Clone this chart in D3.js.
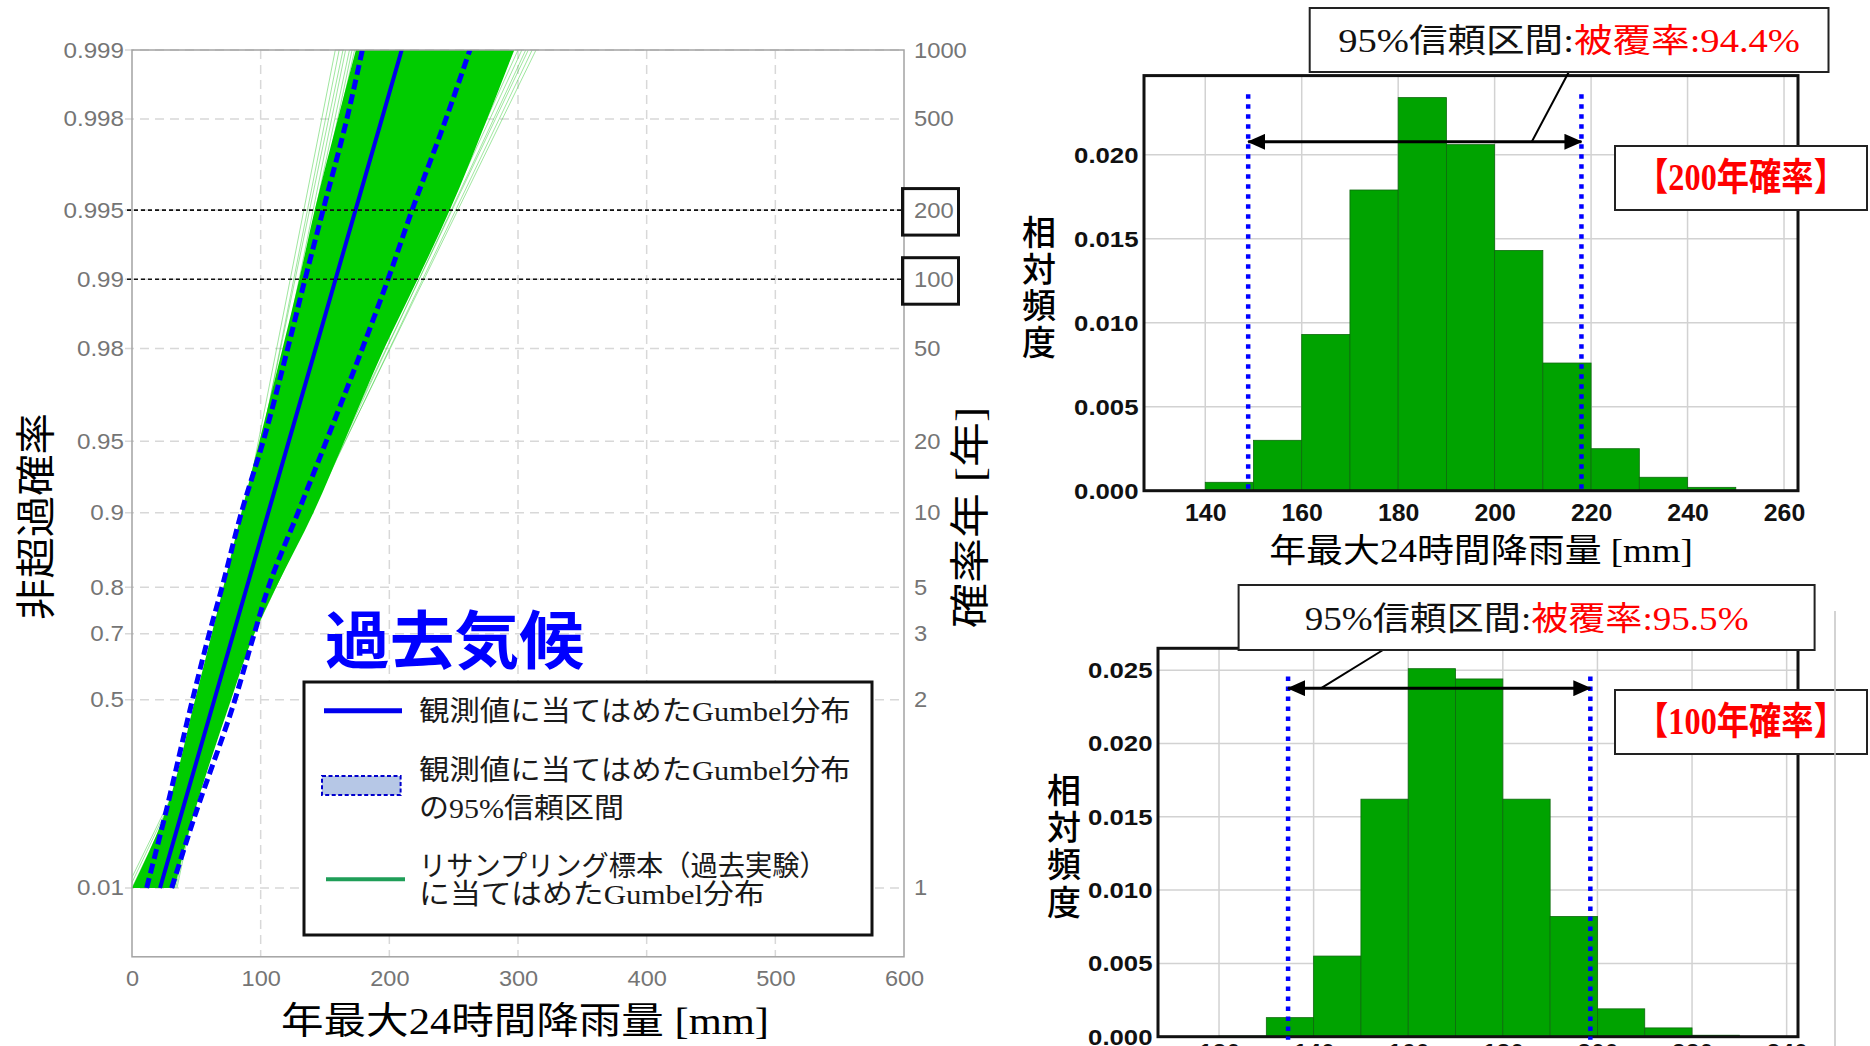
<!DOCTYPE html>
<html>
<head>
<meta charset="utf-8">
<script src="https://cdn.jsdelivr.net/npm/d3@7"></script>
<style>
  html, body { margin: 0; padding: 0; background: #fff; }
  svg { display: block; }
</style>
</head>
<body>
<svg id="chart" width="1870" height="1046"></svg>
<script>
// ---------------- data ----------------
// Gumbel probability paper: non-exceedance probability ticks and matching return periods
const probTicks = [0.01, 0.5, 0.7, 0.8, 0.9, 0.95, 0.98, 0.99, 0.995, 0.998, 0.999];
const probTickLabels = ["0.01", "0.5", "0.7", "0.8", "0.9", "0.95", "0.98", "0.99", "0.995", "0.998", "0.999"];
const returnPeriodLabels = ["1", "2", "3", "5", "10", "20", "50", "100", "200", "500", "1000"];
const rainTicks = [0, 100, 200, 300, 400, 500, 600];
const boxedProbs = [0.995, 0.99];          // 200-year and 100-year levels

// curves sampled at these probabilities (rainfall in mm)
const curveProbs   = [0.01, 0.1, 0.5, 0.7, 0.8, 0.9, 0.95, 0.98, 0.99, 0.995, 0.998, 0.999];
const fitRain      = [21.8, 37.2, 64.0, 78.8, 89.2, 105.9, 121.9, 142.7, 158.2, 173.7, 194.2, 209.6];
const ciLowRain    = [11.4, 25, 47, 60, 70, 85, 102, 121, 134.5, 148.5, 167, 179];
const ciHighRain   = [30.8, 48, 80, 95, 106, 129, 151, 179, 199, 217.7, 244, 262.6];
const bandLowRain  = [0, 24, 49, 62, 71, 85, 99, 117, 130, 142, 160, 174];
const bandHighRain = [33, 47, 77, 95, 112, 141, 165, 196, 222, 247, 276, 297];
// outer resampled Gumbel fits: rainfall at p = 0.01 and at p = 0.999
const sampleRainAtP001  = [30, 32, 28, 34, 31, 35, 29, 33, -4, 0, -2, 3, 1, 5, 2, 6];
const sampleRainAtP0999 = [158, 161, 164, 166, 169, 171, 173, 176, 314, 311, 308, 306, 303, 300, 297, 295];

// histograms of the resampled 200-year and 100-year rainfall
const hist200Bins    = [140, 150, 160, 170, 180, 190, 200, 210, 220, 230, 240];
const hist200Density = [0.0005, 0.0030, 0.0093, 0.0179, 0.0234, 0.0206, 0.0143, 0.0076, 0.0025, 0.0008, 0.0002];
const hist200CI      = [148.9, 218.0];
const hist200XTicks  = [140, 160, 180, 200, 220, 240, 260];
const hist200YTicks  = [0, 0.005, 0.010, 0.015, 0.020];

const hist100Bins    = [120, 130, 140, 150, 160, 170, 180, 190, 200, 210, 220];
const hist100Density = [0.00004, 0.0013, 0.0055, 0.0162, 0.0251, 0.0244, 0.0162, 0.0082, 0.0019, 0.0006, 0.0001];
const hist100CI      = [134.6, 198.5];
const hist100XTicks  = [120, 140, 160, 180, 200, 220, 240];
const hist100YTicks  = [0, 0.005, 0.010, 0.015, 0.020, 0.025];

const binWidth = 10;

// ---------------- helpers ----------------
const svg = d3.select("#chart");
const defs = svg.append("defs");
const SANS = "'Liberation Sans', Arial, Helvetica, sans-serif";
const JP = "'Noto Sans CJK JP', 'Noto Sans CJK SC', sans-serif";
const MIX = "'Liberation Serif', 'Noto Sans CJK JP', serif";

function txt(parent, content, o) {
  const gT = parent.append("g")
    .attr("transform", `translate(${o.x},${o.y})` + (o.rotate ? ` rotate(${o.rotate})` : ""));
  const t = gT.append("text")
    .attr("text-anchor", o.anchor || "middle")
    .attr("dominant-baseline", "central")
    .attr("fill", o.fill || "#000")
    .style("font-family", o.family || MIX)
    .style("font-size", o.size + "px")
    .style("font-weight", o.weight || "normal");
  if (Array.isArray(content)) {
    content.forEach(c => t.append("tspan").attr("fill", c.fill).text(c.text));
  } else {
    t.text(content);
  }
  if (o.width) {
    const w = t.node().getBBox().width;
    t.attr("transform", `scale(${o.width / w},1)`);
  } else if (o.stretch) {
    t.attr("transform", `scale(${o.stretch},1)`);
  }
  return t;
}

// upright characters stacked top to bottom
function vtxt(parent, content, o) {
  return parent.append("text")
    .attr("x", o.x).attr("y", o.y)
    .attr("text-anchor", "start")
    .style("writing-mode", "vertical-rl")
    .style("letter-spacing", o.spacing + "px")
    .style("font-family", o.family)
    .style("font-size", o.size + "px")
    .style("font-weight", o.weight || "normal")
    .attr("fill", o.fill || "#000")
    .text(content);
}

function styleAxis(axG, o) {
  axG.select(".domain").remove();
  axG.selectAll(".tick line").remove();
  axG.selectAll(".tick text")
    .attr("fill", o.fill)
    .style("font-family", o.family)
    .style("font-size", o.size + "px")
    .style("font-weight", o.weight || "normal")
    .each(function () {
      const t = d3.select(this);
      const x = +t.attr("x") || 0;
      t.attr("transform", `translate(${x},0) scale(${o.stretch},1) translate(${-x},0)`);
    });
}

// ---------------- left: Gumbel probability plot ----------------
const L = { left: 132, right: 904, top: 50, bottom: 956.8 };
const gum = p => -Math.log(-Math.log(p));        // reduced variate
const xR = d3.scaleLinear().domain([0, 600]).range([L.left, L.right]);
const yRed = d3.scaleLinear().domain([gum(0.0001), gum(0.999)]).range([L.bottom, L.top]);
const yP = p => yRed(gum(p));

defs.append("clipPath").attr("id", "plotClip").append("rect")
  .attr("x", L.left).attr("y", L.top)
  .attr("width", L.right - L.left).attr("height", L.bottom - L.top);

const plot = svg.append("g");

// dashed grid
plot.append("g").selectAll("line").data(probTicks).join("line")
  .attr("x1", L.left - 7).attr("x2", L.right)
  .attr("y1", d => yP(d)).attr("y2", d => yP(d))
  .attr("stroke", "#d8d8d8").attr("stroke-width", 1.5).attr("stroke-dasharray", "9,6");
plot.append("g").selectAll("line").data(rainTicks.slice(1, -1)).join("line")
  .attr("x1", d => xR(d)).attr("x2", d => xR(d))
  .attr("y1", L.top).attr("y2", L.bottom)
  .attr("stroke", "#d8d8d8").attr("stroke-width", 1.5).attr("stroke-dasharray", "9,6");

const pts = vals => curveProbs.map((p, i) => ({ p, v: vals[i] }));
const lineGen = d3.line().x(d => xR(d.v)).y(d => yP(d.p));
const curves = plot.append("g").attr("clip-path", "url(#plotClip)");

// resampled fits: faint outer lines and the dense core
curves.selectAll("path.sample")
  .data(sampleRainAtP001.map((v, i) => [{ p: 0.01, v }, { p: 0.999, v: sampleRainAtP0999[i] }]))
  .join("path").attr("class", "sample")
  .attr("d", lineGen).attr("fill", "none")
  .attr("stroke", "#3fcf3f").attr("stroke-opacity", 0.5).attr("stroke-width", 1);

const bandArea = d3.area().y(d => yP(d.p)).x0(d => xR(d.lo)).x1(d => xR(d.hi))
  .curve(d3.curveMonotoneY);
curves.append("path")
  .datum(curveProbs.map((p, i) => ({ p, lo: bandLowRain[i], hi: bandHighRain[i] })))
  .attr("d", bandArea).attr("fill", "#00cc00");

// guide lines at the 200-year and 100-year levels
plot.append("g").selectAll("line").data(boxedProbs).join("line")
  .attr("x1", L.left - 5).attr("x2", L.right)
  .attr("y1", d => yP(d)).attr("y2", d => yP(d))
  .attr("stroke", "#111").attr("stroke-width", 1.6).attr("stroke-dasharray", "4,3");

// 95% confidence limits and fitted Gumbel line
const smoothLine = d3.line().x(d => xR(d.v)).y(d => yP(d.p)).curve(d3.curveMonotoneY);
[ciLowRain, ciHighRain].forEach(vals => {
  curves.append("path").datum(pts(vals)).attr("d", smoothLine)
    .attr("fill", "none").attr("stroke", "#0000ff")
    .attr("stroke-width", 5).attr("stroke-dasharray", "10,5");
});
curves.append("path").datum(pts(fitRain)).attr("d", lineGen)
  .attr("fill", "none").attr("stroke", "#0000ee").attr("stroke-width", 4);

// frame
plot.append("rect")
  .attr("x", L.left).attr("y", L.top)
  .attr("width", L.right - L.left).attr("height", L.bottom - L.top)
  .attr("fill", "none").attr("stroke", "#a3a3a3").attr("stroke-width", 1.5);

// axes
const axLeft = plot.append("g").attr("transform", `translate(${L.left},0)`)
  .call(d3.axisLeft(yRed).tickValues(probTicks.map(gum))
    .tickFormat((d, i) => probTickLabels[i]).tickSize(0).tickPadding(8));
styleAxis(axLeft, { fill: "#757575", family: SANS, size: 22, stretch: 1.1 });

const axRight = plot.append("g").attr("transform", `translate(${L.right},0)`)
  .call(d3.axisRight(yRed).tickValues(probTicks.map(gum))
    .tickFormat((d, i) => returnPeriodLabels[i]).tickSize(0).tickPadding(10));
styleAxis(axRight, { fill: "#757575", family: SANS, size: 22, stretch: 1.08 });

const axBottom = plot.append("g").attr("transform", `translate(0,${L.bottom})`)
  .call(d3.axisBottom(xR).tickValues(rainTicks).tickSize(0).tickPadding(13.5));
styleAxis(axBottom, { fill: "#757575", family: SANS, size: 22, stretch: 1.07 });

// frames around the 200 and 100 labels
plot.append("g").selectAll("rect").data(boxedProbs).join("rect")
  .attr("x", L.right - 1.5).attr("y", d => yP(d) - 21.5)
  .attr("width", 56).attr("height", 46.5)
  .attr("fill", "none").attr("stroke", "#111").attr("stroke-width", 3);

// axis titles
txt(svg, "非超過確率", { x: 33, y: 516.5, rotate: -90, family: JP, size: 40, width: 207 });
txt(svg, "確率年 [年]", { x: 970, y: 517.5, rotate: -90, family: MIX, size: 40, width: 221 });
txt(svg, "年最大24時間降雨量 [mm]", { x: 525, y: 1021.5, family: MIX, size: 37, width: 488 });

// panel title
txt(plot, "過去気候", { x: 325, y: 635, anchor: "start", family: JP, weight: "bold", size: 63, fill: "#0000ff", width: 259 });

// legend
const lg = plot.append("g");
lg.append("rect").attr("x", 304).attr("y", 682).attr("width", 568).attr("height", 253)
  .attr("fill", "#fff").attr("stroke", "#111").attr("stroke-width", 3);
lg.append("line").attr("x1", 324).attr("x2", 402).attr("y1", 710.7).attr("y2", 710.7)
  .attr("stroke", "#0000ee").attr("stroke-width", 5);
lg.append("rect").attr("x", 322).attr("y", 776).attr("width", 78.6).attr("height", 19)
  .attr("fill", "#b6c7e6").attr("stroke", "#0000cc").attr("stroke-width", 2).attr("stroke-dasharray", "4,2.5");
lg.append("line").attr("x1", 326).attr("x2", 405).attr("y1", 879.3).attr("y2", 879.3)
  .attr("stroke", "#1f9e58").attr("stroke-width", 4);
const legendRows = [
  { t: "観測値に当てはめたGumbel分布", y: 711.7, w: 432 },
  { t: "観測値に当てはめたGumbel分布", y: 770, w: 432 },
  { t: "の95%信頼区間", y: 808, w: 205 },
  { t: "リサンプリング標本（過去実験）", y: 866, w: 408 },
  { t: "に当てはめたGumbel分布", y: 895, w: 346 }
];
legendRows.forEach(r => txt(lg, r.t, { x: 419, y: r.y, anchor: "start", family: MIX, size: 28, fill: "#1a1a1a", width: r.w }));

// ---------------- right: histograms ----------------
defs.append("marker").attr("id", "head")
  .attr("viewBox", "0 0 18 16").attr("refX", 17).attr("refY", 8)
  .attr("markerWidth", 18).attr("markerHeight", 16)
  .attr("markerUnits", "userSpaceOnUse").attr("orient", "auto-start-reverse")
  .append("path").attr("d", "M0,0 L18,8 L0,16 Z").attr("fill", "#000");

function histogram(c) {
  const gH = svg.append("g");
  const xs = d3.scaleLinear().domain(c.xDomain).range([c.l, c.r]);
  const ys = d3.scaleLinear().domain(c.yDomain).range([c.b, c.t]);

  gH.append("g").selectAll("line").data(c.xTicks).join("line")
    .attr("x1", d => xs(d)).attr("x2", d => xs(d)).attr("y1", c.t).attr("y2", c.b)
    .attr("stroke", "#d2d2d2").attr("stroke-width", 1.5);
  gH.append("g").selectAll("line").data(c.yTicks.slice(1)).join("line")
    .attr("x1", c.l).attr("x2", c.r).attr("y1", d => ys(d)).attr("y2", d => ys(d))
    .attr("stroke", "#d2d2d2").attr("stroke-width", 1.5);

  gH.append("g").selectAll("rect").data(c.bins).join("rect")
    .attr("x", d => xs(d)).attr("width", d => xs(d + binWidth) - xs(d))
    .attr("y", (d, i) => ys(c.density[i])).attr("height", (d, i) => ys(0) - ys(c.density[i]))
    .attr("fill", "#00a300").attr("stroke", "#0d6a0d").attr("stroke-width", 0.8);

  gH.append("rect").attr("x", c.l).attr("y", c.t).attr("width", c.r - c.l).attr("height", c.b - c.t)
    .attr("fill", "none").attr("stroke", "#111").attr("stroke-width", 3);

  // confidence limits
  gH.append("g").selectAll("line").data(c.ci).join("line")
    .attr("x1", d => xs(d)).attr("x2", d => xs(d))
    .attr("y1", ys(c.dotTop)).attr("y2", c.b + 3)
    .attr("stroke", "#0000ff").attr("stroke-width", 4.5).attr("stroke-dasharray", "4.5,5.5");

  const ay = ys(c.arrowLevel);
  gH.append("line").attr("x1", xs(c.ci[0])).attr("x2", xs(c.ci[1])).attr("y1", ay).attr("y2", ay)
    .attr("stroke", "#000").attr("stroke-width", 3)
    .attr("marker-start", "url(#head)").attr("marker-end", "url(#head)");

  // axes
  const axY = gH.append("g").attr("transform", `translate(${c.l},0)`)
    .call(d3.axisLeft(ys).tickValues(c.yTicks).tickFormat(d3.format(".3f")).tickSize(0).tickPadding(5.5));
  styleAxis(axY, { fill: "#111", family: SANS, size: 23, weight: "bold", stretch: 1.12 });
  const axX = gH.append("g").attr("transform", `translate(0,${c.b})`)
    .call(d3.axisBottom(xs).tickValues(c.xTicks).tickSize(0).tickPadding(c.xPad));
  styleAxis(axX, { fill: "#111", family: SANS, size: 23, weight: "bold", stretch: 1.08 });

  // y title, stacked upright characters
  vtxt(gH, "相対頻度", { x: c.yTitleX, y: c.yTitleTop, family: JP, size: 34, spacing: c.yTitleStep - 34, weight: 500 });

  // callout: interval and coverage
  gH.append("line").attr("x1", c.note.lx).attr("y1", c.note.y + c.note.h)
    .attr("x2", xs(c.note.toValue)).attr("y2", ay)
    .attr("stroke", "#000").attr("stroke-width", 2);
  gH.append("rect").attr("x", c.note.x).attr("y", c.note.y).attr("width", c.note.w).attr("height", c.note.h)
    .attr("fill", "#fff").attr("stroke", "#222").attr("stroke-width", 2);
  txt(gH, [{ text: "95%信頼区間:", fill: "#111" }, { text: "被覆率:" + c.coverage, fill: "#ff0000" }],
    { x: c.note.x + c.note.w / 2, y: c.note.y + c.note.h / 2 + 1, family: MIX, size: 33, width: c.note.tw });

  gH.append("rect").attr("x", 1615).attr("y", c.tag.y).attr("width", 252).attr("height", 64)
    .attr("fill", "#fff").attr("stroke", "#222").attr("stroke-width", 2);
  txt(gH, c.tag.text, { x: 1741, y: c.tag.y + 32, family: MIX, size: 38, weight: "bold", fill: "#ff0000", width: 210 });
  return gH;
}

const h200 = histogram({
  l: 1144, r: 1798, t: 75.6, b: 490.7,
  xDomain: [127.3, 262.9], yDomain: [0, 0.02471],
  xTicks: hist200XTicks, yTicks: hist200YTicks, xPad: 13.7,
  bins: hist200Bins, density: hist200Density, ci: hist200CI,
  dotTop: 0.0236, arrowLevel: 0.02077,
  yTitleX: 1039, yTitleTop: 215, yTitleStep: 36.7,
  coverage: "94.4%",
  note: { x: 1309.7, y: 8, w: 518.8, h: 64, tw: 462, lx: 1568.8, toValue: 207.7 },
  tag: { y: 146, text: "【200年確率】" }
});
txt(h200, "年最大24時間降雨量 [mm]", { x: 1481, y: 551, family: MIX, size: 33, width: 424 });

histogram({
  l: 1158, r: 1798, t: 648.3, b: 1036.7,
  xDomain: [107.1, 242.4], yDomain: [0, 0.02649],
  xTicks: hist100XTicks, yTicks: hist100YTicks, xPad: 7.7,
  bins: hist100Bins, density: hist100Density, ci: hist100CI,
  dotTop: 0.02456, arrowLevel: 0.02377,
  yTitleX: 1064, yTitleTop: 773, yTitleStep: 37.2,
  coverage: "95.5%",
  note: { x: 1238.6, y: 585, w: 576, h: 65, tw: 444, lx: 1383, toValue: 141.6 },
  tag: { y: 690, text: "【100年確率】" }
});

// thin divider at the right edge of the lower panel
svg.append("line").attr("x1", 1835).attr("x2", 1835).attr("y1", 611).attr("y2", 1046)
  .attr("stroke", "#c4c4c4").attr("stroke-width", 1.5);
</script>
</body>
</html>
